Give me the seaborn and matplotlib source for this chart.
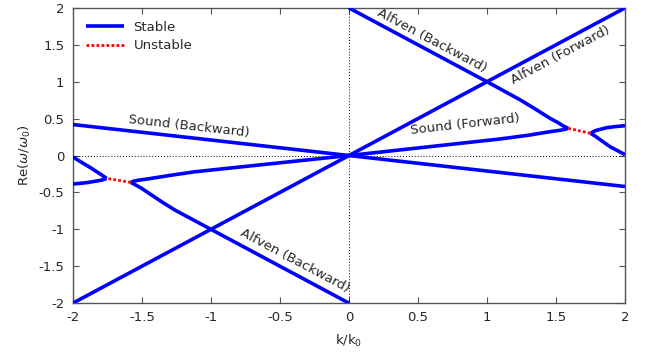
import numpy as np
import pandas as pd
import seaborn as sns
import matplotlib.pyplot as plt

# values
alfven_fwd_k = [-2.0, 2.0]
alfven_fwd_w = [-2.0, 2.0]
sound_bwd_k = [-2.0, 2.0]
sound_bwd_w = [0.42, -0.42]

# k > 0 : Alfven (backward) and Sound (forward) meeting near k = 1.6
alfven_bwd_r_k = [0.0, 1.0, 1.24, 1.35, 1.457, 1.52, 1.553, 1.575, 1.589]
alfven_bwd_r_w = [2.0, 1.0, 0.755, 0.63, 0.504, 0.44, 0.40, 0.38, 0.369]
sound_fwd_r_k = [0.0, 1.094, 1.30, 1.457, 1.53, 1.565, 1.589]
sound_fwd_r_w = [0.0, 0.224, 0.275, 0.323, 0.342, 0.355, 0.369]
split_up_r_k = [1.751, 1.783, 1.867, 1.93, 2.0]
split_up_r_w = [0.30, 0.336, 0.377, 0.392, 0.404]
split_lo_r_k = [1.751, 1.783, 1.891, 2.0]
split_lo_r_w = [0.30, 0.264, 0.12, 0.012]
unstable_r_k = [1.589, 1.751]
unstable_r_w = [0.369, 0.30]

# k < 0 : the mirrored branches
alfven_bwd_l_k = [0.0, -1.0, -1.261, -1.35, -1.502, -1.53, -1.56, -1.58]
alfven_bwd_l_w = [-2.0, -1.0, -0.739, -0.635, -0.445, -0.415, -0.385, -0.364]
sound_fwd_l_k = [0.0, -1.116, -1.30, -1.45, -1.527, -1.56, -1.58]
sound_fwd_l_w = [0.0, -0.22, -0.27, -0.315, -0.335, -0.348, -0.364]
split_up_l_k = [-1.756, -1.79, -1.865, -1.93, -2.0]
split_up_l_w = [-0.31, -0.265, -0.174, -0.10, -0.02]
split_lo_l_k = [-1.756, -1.785, -1.817, -1.90, -2.0]
split_lo_l_w = [-0.31, -0.33, -0.342, -0.368, -0.386]
unstable_l_k = [-1.58, -1.756]
unstable_l_w = [-0.364, -0.31]

stable = [
    (alfven_fwd_k, alfven_fwd_w), (sound_bwd_k, sound_bwd_w),
    (alfven_bwd_r_k, alfven_bwd_r_w), (sound_fwd_r_k, sound_fwd_r_w),
    (split_up_r_k, split_up_r_w), (split_lo_r_k, split_lo_r_w),
    (alfven_bwd_l_k, alfven_bwd_l_w), (sound_fwd_l_k, sound_fwd_l_w),
    (split_up_l_k, split_up_l_w), (split_lo_l_k, split_lo_l_w),
]
unstable = [(unstable_r_k, unstable_r_w), (unstable_l_k, unstable_l_w)]

sns.set_style("ticks")
plt.rcParams['font.family'] = ['DejaVu Sans']

fig = plt.figure(figsize=(6.45, 3.6), dpi=100)
ax = fig.add_axes([0.113, 0.158, 0.856, 0.82])

ax.axhline(0, color="black", lw=0.7, ls=(0, (1, 2)), zorder=1)
ax.axvline(0, color="black", lw=0.7, ls=(0, (1, 2)), zorder=1)

for i, (k, w) in enumerate(stable):
    df = pd.DataFrame({"k": k, "w": w})
    sns.lineplot(data=df, x="k", y="w", sort=False, estimator=None, ax=ax,
                 color="#0000ff", lw=2.6, label="Stable" if i == 0 else None,
                 solid_capstyle="butt", solid_joinstyle="round", zorder=3)
for i, (k, w) in enumerate(unstable):
    df = pd.DataFrame({"k": k, "w": w})
    sns.lineplot(data=df, x="k", y="w", sort=False, estimator=None, ax=ax,
                 color="#ff0000", lw=2.0, ls=(0, (1, 0.8)),
                 label="Unstable" if i == 0 else None, zorder=4)

ax.set_xlim(-2, 2)
ax.set_ylim(-2, 2)
ax.set_xticks(np.arange(-2, 2.01, 0.5))
ax.set_yticks(np.arange(-2, 2.01, 0.5))
ax.set_xticklabels(["-2", "-1.5", "-1", "-0.5", "0", "0.5", "1", "1.5", "2"])
ax.set_yticklabels(["-2", "-1.5", "-1", "-0.5", "0", "0.5", "1", "1.5", "2"])
ax.tick_params(direction="in", top=True, right=True, labelsize=9.5,
               length=4, width=0.8, color="#555555", pad=6)
for s in ax.spines.values():
    s.set_color("#555555")
    s.set_linewidth(1.0)
ax.set_xlabel("k/k$_0$", fontsize=9.5, labelpad=6)
ax.set_ylabel(r"Re($\omega$/$\omega_0$)", fontsize=9.5, labelpad=4)

leg = ax.legend(loc="upper left", frameon=False, fontsize=9.5,
                handlelength=2.9, handletextpad=0.7, borderaxespad=0.6,
                borderpad=0.4, labelspacing=0.38)

lab = dict(fontsize=9.5, ha="center", va="center", rotation_mode="anchor")
ax.text(-1.16, 0.39, "Sound (Backward)", rotation=-6.4, **lab)
ax.text(0.84, 0.42, "Sound (Forward)", rotation=6.4, **lab)
ax.text(0.60, 1.55, "Alfven (Backward)", rotation=-28, **lab)
ax.text(1.53, 1.36, "Alfven (Forward)", rotation=28, **lab)
ax.text(-0.39, -1.43, "Alfven (Backward)", rotation=-28, **lab)

fig.savefig("out.png", dpi=100)
